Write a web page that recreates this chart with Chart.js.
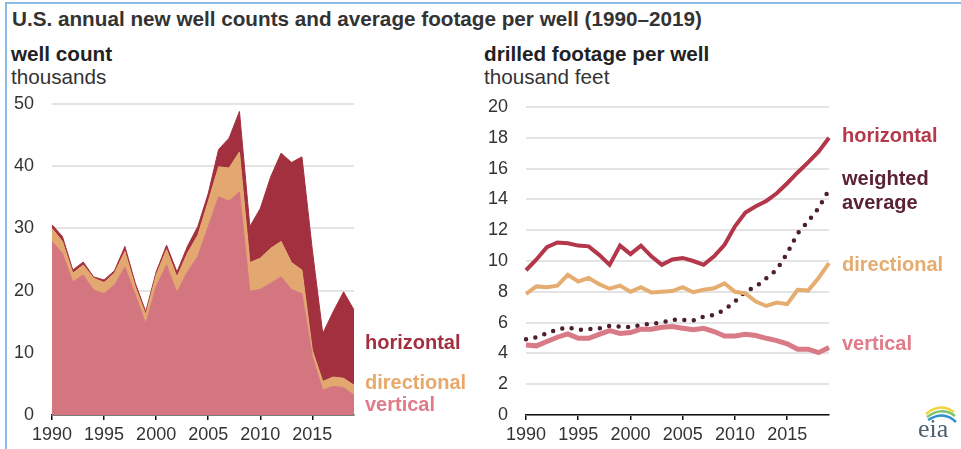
<!DOCTYPE html>
<html>
<head>
<meta charset="utf-8">
<script src="https://cdn.jsdelivr.net/npm/chart.js@4"></script>
<style>
  body { margin: 0; background: #fff; font-family: "Liberation Sans", Arial, sans-serif; }
  #page { position: relative; width: 961px; height: 449px; overflow: hidden; background: #fff; }
  .frame-top { position: absolute; left: 5px; top: 2px; width: 956px; height: 2px; background: #8db9e6; }
  .frame-left { position: absolute; left: 5px; top: 2px; width: 2px; height: 447px; background: #8db9e6; }
  .txt { position: absolute; white-space: nowrap; line-height: 24px; font-size: 20px; }
  .b { font-weight: bold; }
  canvas { position: absolute; top: 0; }
  #logo { position: absolute; left: 912px; top: 400px; }
</style>
</head>
<body>
<div id="page">
  <div class="frame-top"></div>
  <div class="frame-left"></div>

  <div class="txt b" style="left:12px; top:7px; color:#333; font-size:20.7px;">U.S. annual new well counts and average footage per well (1990–2019)</div>
  <div class="txt b" style="left:11px; top:42px; color:#222; font-size:20.7px;">well count</div>
  <div class="txt" style="left:11px; top:65px; color:#333; font-size:20.7px;">thousands</div>
  <div class="txt b" style="left:484px; top:42px; color:#222; font-size:20.7px;">drilled footage per well</div>
  <div class="txt" style="left:484px; top:65px; color:#333; font-size:20.7px;">thousand feet</div>

  <canvas id="countChart" width="480" height="449" style="left:0px;"></canvas>
  <canvas id="footageChart" width="481" height="449" style="left:480px;"></canvas>

  <!-- series labels -->
  <div class="txt b" style="left:365px; top:330px; color:#a3303f;">horizontal</div>
  <div class="txt b" style="left:365px; top:370px; color:#e6a96b;">directional</div>
  <div class="txt b" style="left:365px; top:392px; color:#e07b89;">vertical</div>

  <div class="txt b" style="left:842px; top:123px; color:#b5394b;">horizontal</div>
  <div class="txt b" style="left:842px; top:166px; color:#5a2232;">weighted</div>
  <div class="txt b" style="left:842px; top:190px; color:#5a2232;">average</div>
  <div class="txt b" style="left:842px; top:252px; color:#e6ab6f;">directional</div>
  <div class="txt b" style="left:842px; top:331px; color:#e07b89;">vertical</div>

  <svg id="logo" width="46" height="42" viewBox="0 0 46 42">
    <path d="M14 14 Q28 2 42 12" stroke="#f2d33a" stroke-width="2.5" fill="none"/>
    <path d="M15 17 Q30 6 43 16" stroke="#7cc36b" stroke-width="2.5" fill="none"/>
    <path d="M16 20 Q32 10 44 22" stroke="#2f8fcf" stroke-width="2.5" fill="none"/>
    <text x="6" y="37" font-family="Liberation Serif, serif" font-size="26" fill="#4e5f70">eia</text>
  </svg>
</div>

<script>
  const years = [1990, 1991, 1992, 1993, 1994, 1995, 1996, 1997, 1998, 1999,
                 2000, 2001, 2002, 2003, 2004, 2005, 2006, 2007, 2008, 2009,
                 2010, 2011, 2012, 2013, 2014, 2015, 2016, 2017, 2018, 2019];

  // well counts, thousands (stacked)
  const verticalWells = [27.9, 26.0, 21.4, 22.5, 20.1, 19.5, 20.9, 23.8, 19.3, 14.7,
                         20.6, 24.1, 19.7, 23.0, 25.5, 30.3, 35.1, 34.4, 35.9, 19.9,
                         20.2, 21.2, 22.2, 20.2, 19.5, 9.4, 4.0, 4.6, 4.4, 3.2];
  const directionalWells = [2.1, 1.9, 1.4, 1.6, 1.9, 1.8, 1.9, 2.5, 1.3, 1.4,
                            1.9, 2.5, 2.5, 3.0, 3.4, 4.0, 4.8, 5.3, 6.4, 4.6,
                            5.0, 5.6, 5.7, 4.3, 3.8, 1.0, 1.4, 1.5, 1.5, 1.6];
  const horizontalWells = [0.6, 0.8, 0.5, 0.5, 0.2, 0.4, 0.4, 0.8, 0.6, 0.5,
                           0.5, 0.7, 0.8, 1.1, 1.4, 1.3, 2.8, 4.8, 6.5, 5.8,
                           8.0, 11.5, 14.2, 16.1, 18.2, 16.1, 7.7, 10.5, 13.9, 12.1];

  // drilled footage per well, thousand feet
  const horizontalFootage = [9.4, 10.1, 10.9, 11.2, 11.15, 11.0, 10.95, 10.4, 9.75, 11.0,
                             10.45, 11.0, 10.3, 9.75, 10.1, 10.2, 10.0, 9.75, 10.3, 11.05,
                             12.25, 13.15, 13.55, 13.9, 14.4, 15.05, 15.75, 16.4, 17.1, 18.0];
  const directionalFootage = [7.87, 8.35, 8.3, 8.4, 9.1, 8.67, 8.9, 8.5, 8.2, 8.4,
                              8.0, 8.3, 7.95, 8.0, 8.05, 8.3, 7.97, 8.13, 8.23, 8.55,
                              8.0, 7.9, 7.37, 7.08, 7.3, 7.2, 8.13, 8.08, 8.9, 9.86];
  const verticalFootage = [4.55, 4.49, 4.77, 5.05, 5.27, 4.98, 4.98, 5.24, 5.48, 5.3,
                           5.35, 5.57, 5.57, 5.7, 5.74, 5.63, 5.53, 5.63, 5.42, 5.13,
                           5.13, 5.24, 5.16, 4.98, 4.83, 4.62, 4.27, 4.27, 4.05, 4.38];
  const weightedFootage = [4.92, 5.05, 5.3, 5.57, 5.68, 5.53, 5.57, 5.63, 5.78, 5.74,
                           5.7, 5.85, 5.92, 6.0, 6.18, 6.18, 6.13, 6.39, 6.5, 6.83,
                           7.37, 8.02, 8.34, 8.88, 9.43, 10.5, 11.8, 12.57, 13.43, 14.63];

  const countTicks = [0, 10, 20, 30, 40, 50];
  const footageTicks = [0, 2, 4, 6, 8, 10, 12, 14, 16, 18, 20];

  const tickFont = { family: '"Liberation Sans", Arial, sans-serif', size: 18 };

  function xAxis() {
    return {
      offset: false,
      grid: {
        drawOnChartArea: false,
        tickLength: 5,
        lineWidth: 1.5,
        color: ctx => (years[ctx.index] % 5 === 0 ? '#111' : 'rgba(0,0,0,0)')
      },
      border: { color: '#111', width: 1.5 },
      ticks: {
        autoSkip: false,
        maxRotation: 0,
        padding: 4,
        color: '#333',
        font: tickFont,
        callback: (v, i) => (years[i] % 5 === 0 ? String(years[i]) : '')
      },
      afterFit: s => { s.height = 34; }
    };
  }

  function yAxis(max, step, ticks, width) {
    return {
      min: 0,
      max: max,
      afterBuildTicks: s => { s.ticks = ticks.map(v => ({ value: v })); },
      ticks: { stepSize: step, padding: 18, color: '#333', font: tickFont },
      grid: { color: '#e4e4e4', lineWidth: 2, drawTicks: false },
      border: { display: false },
      afterFit: s => { s.width = width; }
    };
  }

  new Chart(document.getElementById('countChart'), {
    type: 'line',
    data: {
      labels: years,
      datasets: [
        { label: 'vertical', data: verticalWells, fill: 'origin',
          backgroundColor: '#d47680', borderColor: '#d47680', borderWidth: 1, pointRadius: 0 },
        { label: 'directional', data: directionalWells, fill: '-1',
          backgroundColor: '#e2a86f', borderColor: '#e2a86f', borderWidth: 1, pointRadius: 0 },
        { label: 'horizontal', data: horizontalWells, fill: '-1',
          backgroundColor: '#a2303f', borderColor: '#a2303f', borderWidth: 1, pointRadius: 0 }
      ]
    },
    options: {
      responsive: false,
      animation: false,
      layout: { padding: { top: 104, right: 126, bottom: 0, left: 0 } },
      plugins: { legend: { display: false }, tooltip: { enabled: false } },
      elements: { line: { tension: 0 } },
      scales: {
        x: xAxis(),
        y: Object.assign(yAxis(50, 10, countTicks, 52), { stacked: true })
      }
    }
  });

  new Chart(document.getElementById('footageChart'), {
    type: 'line',
    data: {
      labels: years,
      datasets: [
        { label: 'vertical', data: verticalFootage, borderColor: '#d97a87', borderWidth: 5, pointRadius: 0 },
        { label: 'directional', data: directionalFootage, borderColor: '#e6ad70', borderWidth: 4, pointRadius: 0 },
        { label: 'horizontal', data: horizontalFootage, borderColor: '#b3364a', borderWidth: 4, pointRadius: 0 },
        { label: 'weighted average', data: weightedFootage, borderColor: '#4d1f2c', borderWidth: 4.5,
          borderDash: [0, 9.5], borderCapStyle: 'round', pointRadius: 0 }
      ]
    },
    options: {
      responsive: false,
      animation: false,
      layout: { padding: { top: 107, right: 132, bottom: 0, left: 0 } },
      plugins: { legend: { display: false }, tooltip: { enabled: false } },
      elements: { line: { tension: 0, fill: false } },
      scales: {
        x: xAxis(),
        y: yAxis(20, 2, footageTicks, 46)
      }
    }
  });
</script>
</body>
</html>
